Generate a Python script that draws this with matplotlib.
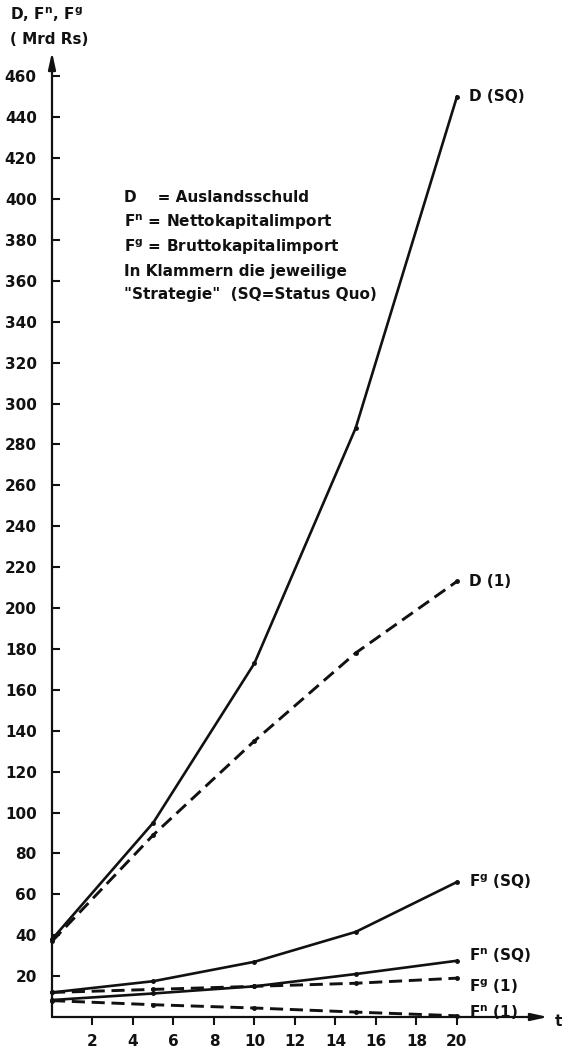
import matplotlib
matplotlib.use("Agg")
import matplotlib.pyplot as plt

plt.rcParams['font.family'] = ['DejaVu Sans']
plt.rcParams['mathtext.default'] = 'bf'

# Jahre (t) und Werte in Mrd Rs
t = [0, 5, 10, 15, 20]
d_sq = [38, 95, 173, 288, 450]
d_1 = [37, 89, 135, 178, 213]
fg_sq = [12, 17.5, 27, 41.6, 66]
fn_sq = [8.3, 11.5, 15, 21, 27.5]
fg_1 = [12, 13.5, 15, 16.5, 19]
fn_1 = [8, 6, 4.4, 2.4, 0.6]

x_ticks = list(range(2, 21, 2))
y_ticks = list(range(20, 461, 20))

W, H = 563, 1052
fig = plt.figure(figsize=(W / 100, H / 100), dpi=100)
ax = fig.add_axes([52 / W, (H - 1017) / H, 496 / W, 965 / H])
ax.set_xlim(0, 24.5)
ax.set_ylim(0, 471.9)

ink = '#111111'

# solid lines
for ys in (d_sq, fg_sq, fn_sq):
    ax.plot(t, ys, color=ink, lw=1.9, marker='o', ms=2.5, clip_on=False)
# dashed lines
for ys in (d_1, fg_1, fn_1):
    ax.plot(t, ys, color=ink, lw=2.1, dashes=[4.5, 2.3], marker='o', ms=2.5,
            clip_on=False)

# end labels
labels = [
    (d_sq, 'D (SQ)', 0),
    (d_1, 'D (1)', 0),
    (fg_sq, r'F$^{g}$ (SQ)', 0),
    (fn_sq, r'F$^{n}$ (SQ)', 4),
    (fg_1, r'F$^{g}$ (1)', -6),
    (fn_1, r'F$^{n}$ (1)', 2),
]
for ys, txt, dy in labels:
    ax.annotate(txt, xy=(t[-1], ys[-1]), xytext=(9, dy), textcoords='offset points',
                va='center', ha='left', fontsize=11, fontweight='bold', color=ink)

# axes with arrows
for s in ax.spines.values():
    s.set_visible(False)
ax.annotate('', xy=(1.0, 0), xytext=(0, 0), xycoords='axes fraction',
            arrowprops=dict(arrowstyle='-|>,head_length=1.0,head_width=0.22',
                            lw=1.6, color=ink, shrinkA=0, shrinkB=0))
ax.annotate('', xy=(0, 1.0), xytext=(0, 0), xycoords='axes fraction',
            arrowprops=dict(arrowstyle='-|>,head_length=1.0,head_width=0.22',
                            lw=1.6, color=ink, shrinkA=0, shrinkB=0))

ax.set_xticks(x_ticks)
ax.set_yticks(y_ticks)
ax.tick_params(axis='x', direction='out', length=6, width=1.5, pad=6,
               labelsize=11, colors=ink)
ax.tick_params(axis='y', direction='in', length=6, width=1.5, pad=11,
               labelsize=11, colors=ink)
for lab in ax.get_xticklabels() + ax.get_yticklabels():
    lab.set_fontweight('bold')

fig.text(555 / W, 1 - 1022 / H, 't', fontsize=11, fontweight='bold',
         color=ink, va='center', ha='left')

# axis title top-left
fig.text(10 / W, 1 - 15 / H, r'D, F$^{n}$, F$^{g}$', fontsize=11,
         fontweight='bold', color=ink, va='center', ha='left')
fig.text(10 / W, 1 - 40 / H, '( Mrd Rs)', fontsize=11,
         fontweight='bold', color=ink, va='center', ha='left')

# key text
key = [
    (197, 'D    = Auslandsschuld'),
    (222, r'F$^{n}$ = Nettokapitalimport'),
    (247, r'F$^{g}$ = Bruttokapitalimport'),
    (271, 'In Klammern die jeweilige'),
    (295, '"Strategie"  (SQ=Status Quo)'),
]
for yp, txt in key:
    fig.text(124 / W, 1 - yp / H, txt, fontsize=11, fontweight='bold',
             color=ink, va='center', ha='left')

fig.savefig('out.png', dpi=100, facecolor='white')
